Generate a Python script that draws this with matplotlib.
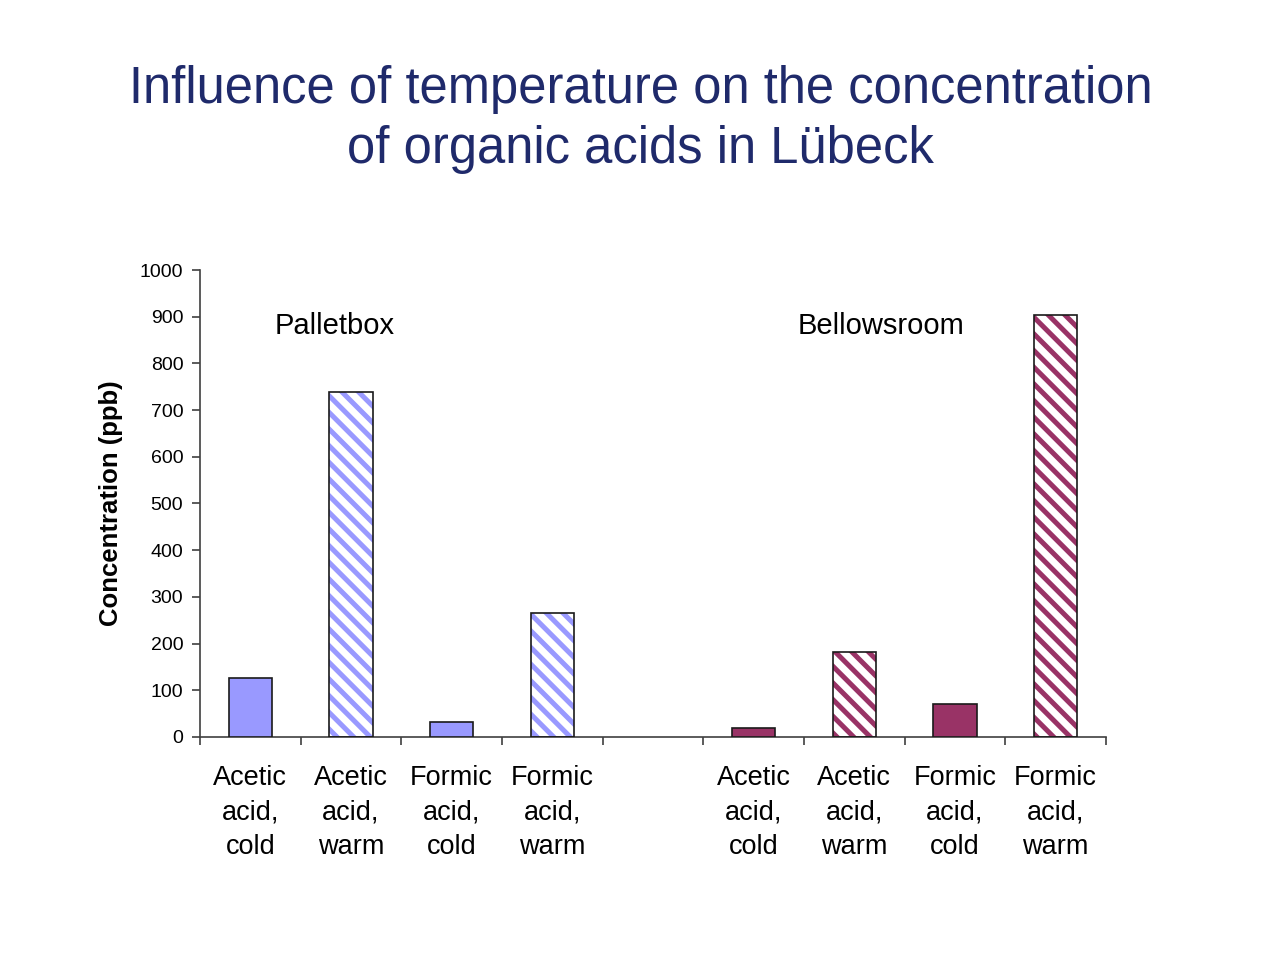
import matplotlib
matplotlib.use('Agg')
import matplotlib.pyplot as plt
import numpy as np

plt.rcParams['font.family'] = ['Liberation Sans', 'DejaVu Sans']
plt.rcParams['hatch.linewidth'] = 3.6

# data (ppb)
labels = ['Acetic\nacid,\ncold', 'Acetic\nacid,\nwarm', 'Formic\nacid,\ncold', 'Formic\nacid,\nwarm']
palletbox = [126, 739, 32, 265]
bellowsroom = [19, 182, 71, 904]
warm = [False, True, False, True]
groups = ['Palletbox', 'Bellowsroom']

blue = '#9999FF'
purple = '#993366'
edge = '#1a1a1a'
axis_color = '#404040'

fig = plt.figure(figsize=(12.81, 9.65), dpi=100)
ax = fig.add_axes([0.1561, 0.2363, 0.7073, 0.4839])

# 9 slots: 4 palletbox, one empty gap, 4 bellowsroom
x_pal = np.arange(4)
x_bel = np.arange(5, 9)
width = 0.43

for xs, vals, col in [(x_pal, palletbox, blue), (x_bel, bellowsroom, purple)]:
    for x, v, w in zip(xs, vals, warm):
        if w:
            # hatch takes the edge colour, so draw the stripes and the outline separately
            ax.bar(x, v, width, color='white', edgecolor=col, hatch='\\\\', linewidth=0, zorder=2)
            ax.bar(x, v, width, color='none', edgecolor=edge, linewidth=1.2, zorder=3)
        else:
            ax.bar(x, v, width, color=col, edgecolor=edge, linewidth=1.2, zorder=3)

ax.set_xlim(-0.5, 8.5)
ax.set_ylim(0, 1000)
ax.set_yticks(np.arange(0, 1001, 100))
ax.tick_params(axis='y', labelsize=14, length=6, width=1.2, color=axis_color, pad=6)

# category labels centred, ticks on boundaries
ax.set_xticks(np.arange(-0.5, 9, 1))
ax.set_xticklabels([])
ax.set_xticks(list(x_pal) + list(x_bel), minor=True)
ax.set_xticklabels(labels + labels, minor=True, fontsize=19.5, linespacing=1.42)
ax.tick_params(axis='x', which='major', length=6, width=1.2, color=axis_color)
ax.tick_params(axis='x', which='minor', length=0, pad=20)

for s in ['top', 'right']:
    ax.spines[s].set_visible(False)
for s in ['left', 'bottom']:
    ax.spines[s].set_color(axis_color)
    ax.spines[s].set_linewidth(1.2)

ax.set_ylabel('Concentration (ppb)', fontsize=18.5, fontweight='bold', labelpad=12)

ax.text(0.245, 880, groups[0], fontsize=21, va='center', ha='left')
ax.text(5.44, 880, groups[1], fontsize=21, va='center', ha='left')

fig.text(0.5, 0.876, 'Influence of temperature on the concentration\nof organic acids in Lübeck',
         ha='center', va='center', fontsize=36.5, color='#1F2A6B', linespacing=1.3)

fig.savefig('out.png', dpi=100)
